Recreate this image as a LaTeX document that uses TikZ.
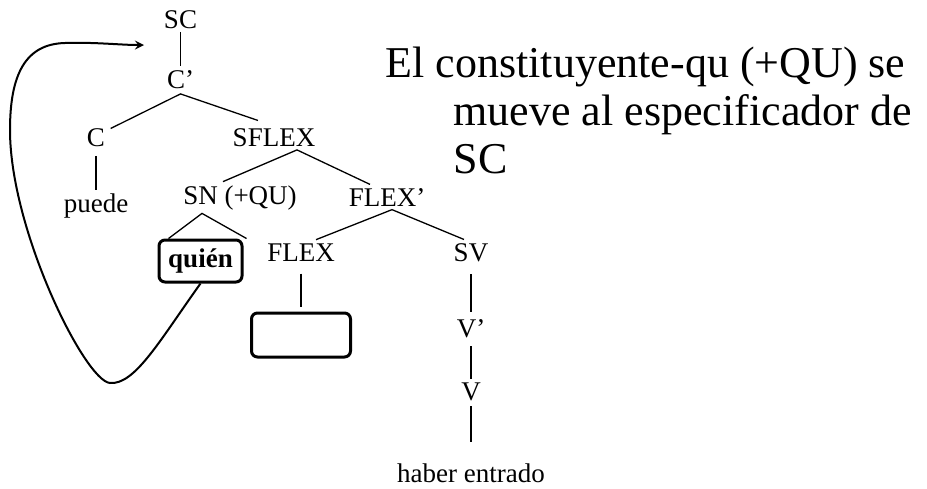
\documentclass[tikz,border=0pt]{standalone}
\usepackage{fontspec}
\setmainfont{Liberation Serif}
\usepackage{tikz}
\usetikzlibrary{arrows,positioning,calc}

\begin{document}
\begin{tikzpicture}[x=0.5pt, y=-0.5pt, line width=0.65pt,
    every node/.style={font=\fontsize{13.5}{16}\selectfont},
    lbl/.style={anchor=base, inner xsep=2.5pt, inner ysep=1.5pt},
    mbox/.style={draw, rounded corners=3pt, line width=1.5pt, inner sep=0pt}]
                    \useasboundingbox (0,0) rectangle (927,488);
                    \node[lbl] (sc) at (180.5,28) {SC};
                    \node[lbl] (cp) at (180.5,88) {C’};
                    \node[lbl] (c) at (96,146) {C};
                    \node[lbl] (sf) at (274,146) {SFLEX};
                    \node[lbl] (puede) at (96,212) {puede};
                    \node[lbl] (sn) at (240,204) {SN (+QU)};
                    \node[lbl] (fp) at (387,206) {FLEX’};
                    \node[mbox, minimum width=41.5pt, minimum height=21pt] (qn) at (200.5,261) {\textbf{quién}};
                    \node[lbl] (fl) at (301,261) {FLEX};
                    \node[lbl] (sv) at (471,261) {SV};
                    \node[mbox, minimum width=49.5pt, minimum height=22pt] (ebox) at (301,335) {};
                    \node[lbl] (vp) at (471,337) {V’};
                    \node[lbl] (v) at (471,400) {V};
                    \node[lbl] (hab) at (471,482) {haber entrado};
                    \node[anchor=north west, inner sep=0pt, align=left, font=\fontsize{22}{24}\selectfont] (txt) at (385,46)
                        {El constituyente-qu (+QU) se\\\hspace*{34pt}mueve al especificador de\\\hspace*{34pt}SC};
                    \coordinate (tip) at (144,45);
                    \draw (sc.south) -- (cp.north);
                    \draw ([yshift=-2pt]c.north east) -- ([yshift=-1pt]cp.south) -- ([xshift=-8pt, yshift=2pt]sf.north);
                    \draw[shorten <=3pt] (c.south) -- (puede.north);
                    \draw ([xshift=-8.5pt]sn.north) -- ([xshift=11.5pt]sf.south) -- ([xshift=-8.5pt]fp.north);
                    \draw ([xshift=7.5pt]fl.north) -- ([xshift=2.5pt]fp.south) -- ([xshift=-3.5pt]sv.north);
                    \draw ([xshift=5.5pt]qn.north west) -- ([xshift=-19pt]sn.south) -- ([xshift=1.5pt]qn.north east);
                    \draw[shorten <=4.5pt, shorten >=2.5pt] (fl.south) -- (ebox.north);
                    \draw[shorten <=4.5pt, shorten >=1.5pt] (sv.south) -- (vp.north);
                    \draw[shorten <=2.5pt] (vp.south) -- (v.north);
                    \draw[shorten <=1pt, shorten >=9pt] (v.south) -- (hab.north);
                    \draw[->, >=stealth, line width=1pt] (qn.south) .. controls (160,340) and (135,385) .. (110,383)
                        .. controls (85,381) and (10,230) .. (10,130)
                        .. controls (10,75) and (25,44) .. (65,43)
                        .. controls (95,42) and (120,45) .. (tip);
                \end{tikzpicture}
\end{document}
